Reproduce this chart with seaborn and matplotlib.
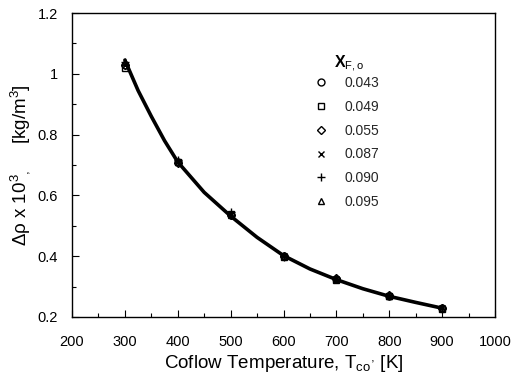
import matplotlib
matplotlib.use("Agg")
import matplotlib.pyplot as plt
import seaborn as sns
import pandas as pd
from matplotlib.ticker import MultipleLocator

sns.set_theme(style="ticks")
plt.rcParams['font.family'] = ['Liberation Sans', 'DejaVu Sans']
plt.rcParams['mathtext.fontset'] = 'custom'
plt.rcParams['mathtext.rm'] = 'Liberation Sans'
plt.rcParams['mathtext.it'] = 'Liberation Sans:italic'
plt.rcParams['mathtext.bf'] = 'Liberation Sans:bold'

temps = [300, 400, 500, 600, 700, 800, 900]
series_labels = ["0.043", "0.049", "0.055", "0.087", "0.090", "0.095"]
series_values = {
    "0.043": [1.03, 0.71, 0.535, 0.400, 0.325, 0.270, 0.228],
    "0.049": [1.02, 0.71, 0.540, 0.398, 0.322, 0.268, 0.226],
    "0.055": [1.03, 0.705, 0.535, 0.402, 0.328, 0.272, 0.230],
    "0.087": [1.03, 0.71, 0.540, 0.400, 0.325, 0.270, 0.228],
    "0.090": [1.04, 0.715, 0.545, 0.398, 0.324, 0.268, 0.226],
    "0.095": [1.04, 0.71, 0.535, 0.400, 0.325, 0.270, 0.230],
}
markers = ["o", "s", "D", "x", "+", "^"]
marker_sizes = [5, 5, 4, 5, 6, 5]

curve_t = [300, 325, 350, 375, 400, 450, 500, 550, 600, 650, 700, 750, 800, 850, 900]
curve_v = [1.045, 0.945, 0.86, 0.78, 0.71, 0.61, 0.532, 0.462, 0.402, 0.358, 0.323, 0.293, 0.268, 0.248, 0.229]

fig = plt.figure(figsize=(5.15, 3.78), dpi=100)
ax = fig.add_axes([0.1398, 0.1614, 0.8214, 0.8042])

sns.lineplot(x=curve_t, y=curve_v, ax=ax, color="black", lw=2.6, zorder=2)

handles = []
for lab, m, ms in zip(series_labels, markers, marker_sizes):
    df = pd.DataFrame({"T": temps, "v": series_values[lab]})
    h, = ax.plot(df["T"], df["v"], linestyle="none", marker=m, markersize=ms,
                 markerfacecolor="none", markeredgecolor="black", markeredgewidth=1.0,
                 color="black", label=lab, zorder=3)
    handles.append(h)

ax.set_xlim(200, 1000)
ax.set_ylim(0.2, 1.2)
ax.xaxis.set_major_locator(MultipleLocator(100))
ax.xaxis.set_minor_locator(MultipleLocator(50))
ax.yaxis.set_minor_locator(MultipleLocator(0.1))
ax.set_yticks([0.2, 0.4, 0.6, 0.8, 1.0, 1.2])
ax.set_yticklabels(["0.2", "0.4", "0.6", "0.8", "1", "1.2"])
ax.tick_params(which="both", direction="in", colors="black", labelsize=10.5, width=0.8)
ax.tick_params(which="major", length=5)
ax.tick_params(which="minor", length=3)
ax.tick_params(axis="x", which="both", pad=13)
ax.tick_params(axis="y", which="both", pad=10)
for s in ax.spines.values():
    s.set_color("black")
    s.set_linewidth(1.0)

ax.set_xlabel(r"Coflow Temperature, T$_{\rm co}$$^{,}$ [K]", fontsize=13.5, color="black", labelpad=3)
ax.set_ylabel("\u0394\u03c1 x 10$^3$$_{,}$     [kg/m$^3$]", fontsize=13.5, color="black", labelpad=4)

leg = ax.legend(handles=handles, labels=series_labels,
                loc="upper left", bbox_to_anchor=(0.56, 0.81), frameon=False,
                fontsize=10, labelspacing=0.7, handlelength=1.0,
                handletextpad=1.2, borderaxespad=0)
ax.text(0.655, 0.865, r"X$_{\rm F,o}$", transform=ax.transAxes, fontsize=11.5,
        fontweight="bold", color="black", ha="center", va="top")

fig.savefig("out.png", dpi=100)
